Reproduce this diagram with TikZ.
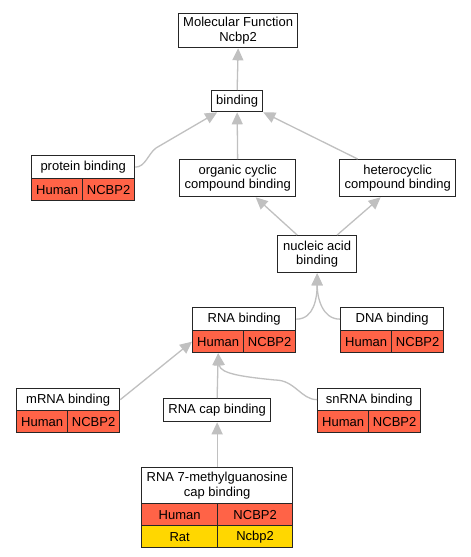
\documentclass[tikz,border=0pt]{standalone}
\usepackage{fontspec}
\setmainfont{Liberation Sans}
\usetikzlibrary{arrows.meta,calc}
\begin{document}
\begin{tikzpicture}[x=1pt,y=-1pt,
  box/.style={draw=black!85,line width=1.3pt,fill=white,anchor=north west,inner sep=0pt,align=center,font=\fontsize{13}{14.5}\selectfont},
  red/.style={box,fill={rgb,255:red,255;green,99;blue,71}},
  yel/.style={box,fill={rgb,255:red,255;green,215;blue,0}},
  edge/.style={draw={rgb,255:red,192;green,192;blue,192},line width=1.3pt,-{Triangle[length=12pt,width=11pt]}}]
\fill[white] (0,0) rectangle (471,557);
\useasboundingbox (0,0) rectangle (471,557);
% nodes
\node[box,minimum width=119pt,minimum height=34pt] (mf) at (178,13) {Molecular Function\\Ncbp2};
\node[box,minimum width=51pt,minimum height=21pt] (bind) at (211,90) {binding};
\node[box,minimum width=103pt,minimum height=23pt] (protT) at (31,155) {protein binding};
\node[red,minimum width=51pt,minimum height=22pt] (protH) at (31,178) {Human};
\node[red,minimum width=52pt,minimum height=22pt] (protN) at (82,178) {NCBP2};
\node[box,minimum width=116pt,minimum height=37pt] (org) at (179,159) {organic cyclic\\compound binding};
\node[box,minimum width=116pt,minimum height=37pt] (het) at (339,159) {heterocyclic\\compound binding};
\node[box,minimum width=79pt,minimum height=37pt] (nuc) at (277,235) {nucleic acid\\binding};
\node[box,minimum width=103pt,minimum height=23pt] (rnaT) at (192,307) {RNA binding};
\node[red,minimum width=51pt,minimum height=22pt] (rnaH) at (192,330) {Human};
\node[red,minimum width=52pt,minimum height=22pt] (rnaN) at (243,330) {NCBP2};
\node[box,minimum width=103pt,minimum height=23pt] (dnaT) at (340,307) {DNA binding};
\node[red,minimum width=51pt,minimum height=22pt] (dnaH) at (340,330) {Human};
\node[red,minimum width=52pt,minimum height=22pt] (dnaN) at (391,330) {NCBP2};
\node[box,minimum width=103pt,minimum height=22pt] (mrnaT) at (16,388) {mRNA binding};
\node[red,minimum width=51pt,minimum height=22pt] (mrnaH) at (16,410) {Human};
\node[red,minimum width=52pt,minimum height=22pt] (mrnaN) at (67,410) {NCBP2};
\node[box,minimum width=107pt,minimum height=23pt] (cap) at (163,398) {RNA cap binding};
\node[box,minimum width=103pt,minimum height=22pt] (snT) at (317,388) {snRNA binding};
\node[red,minimum width=51pt,minimum height=22pt] (snH) at (317,410) {Human};
\node[red,minimum width=52pt,minimum height=22pt] (snN) at (368,410) {NCBP2};
\node[box,minimum width=151pt,minimum height=36pt] (m7T) at (141,467) {RNA 7-methylguanosine\\cap binding};
\node[red,minimum width=76pt,minimum height=22pt] (m7H) at (141,503) {Human};
\node[red,minimum width=75pt,minimum height=22pt] (m7N) at (217,503) {NCBP2};
\node[yel,minimum width=76pt,minimum height=22pt] (m7R) at (141,525) {Rat};
\node[yel,minimum width=75pt,minimum height=22pt] (m7RN) at (217,525) {Ncbp2};
% edges
\draw[edge] (bind.north) -- (mf.south);
\draw[edge] (protT.east) .. controls +(10,0) and +(-8,6) .. (156,148) -- ($(bind.south)+(-20,0)$);
\draw[edge] (org.north) -- (bind.south);
\draw[edge] ($(het.north)+(-40,0)$) -- (bind.south east);
\draw[edge] ($(nuc.north)+(-20,0)$) -- ($(org.south)+(18,0)$);
\draw[edge] ($(nuc.north)+(20,0)$) -- ($(het.south)+(-17,0)$);
\draw[edge] (rnaT.east) .. controls +(18,0) and +(0,24) .. (nuc.south);
\draw[edge] (dnaT.west) .. controls +(-18,0) and +(0,24) .. (nuc.south);
\draw[edge] (mrnaT.east) -- (rnaH.west);
\draw[edge] (cap.north) -- (rnaH.south);
\draw[edge] (snT.west) .. controls +(-16,0) and +(20,0) .. (275,380) .. controls (245,377) and (220,374) .. (rnaH.south);
\draw[edge] (m7T.north) -- (cap.south);
\end{tikzpicture}
\end{document}
